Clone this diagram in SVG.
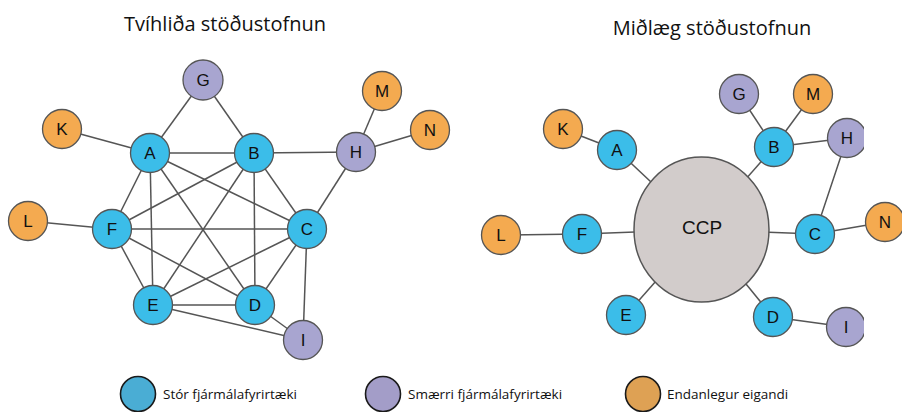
<svg xmlns="http://www.w3.org/2000/svg" width="902" height="412" viewBox="0 0 902 412">
<style>
.e{stroke:#555;stroke-width:1.5;fill:none}
.n circle{stroke:#555;stroke-width:1.3}
.big{fill:#3bbde9}
.small{fill:#a8a5d0}
.end{fill:#f4aa50}
.lbl{font-family:"Liberation Sans",Arial,sans-serif;font-size:17px;fill:#111;text-anchor:middle}
.title{font-family:"Open Sans","Noto Sans",sans-serif;font-size:20px;fill:#111;text-anchor:middle}
.leg{font-family:"Open Sans","Noto Sans",sans-serif;font-size:13.5px;fill:#111}
.legc{stroke:#1a1a1a;stroke-width:1.6}
</style>
<defs>
<clipPath id="rc"><rect x="0" y="0" width="864" height="412"/></clipPath>
</defs>
<rect width="902" height="412" fill="#fff"/>
<text class="title" x="225" y="31">Tvíhliða stöðustofnun</text>
<text class="title" x="712" y="35">Miðlæg stöðustofnun</text>

<g id="connectors-left">
<line class="e" x1="203" y1="80" x2="150" y2="153"/>
<line class="e" x1="203" y1="80" x2="254" y2="153"/>
<line class="e" x1="62" y1="129" x2="150" y2="153"/>
<line class="e" x1="254" y1="153" x2="356" y2="152"/>
<line class="e" x1="356" y1="152" x2="382" y2="91"/>
<line class="e" x1="356" y1="152" x2="430" y2="130"/>
<line class="e" x1="356" y1="152" x2="307" y2="229"/>
<line class="e" x1="28" y1="221" x2="112" y2="229"/>
<line class="e" x1="150" y1="153" x2="254" y2="153"/>
<line class="e" x1="150" y1="153" x2="307" y2="229"/>
<line class="e" x1="150" y1="153" x2="255" y2="305"/>
<line class="e" x1="150" y1="153" x2="153" y2="305"/>
<line class="e" x1="150" y1="153" x2="112" y2="229"/>
<line class="e" x1="254" y1="153" x2="307" y2="229"/>
<line class="e" x1="254" y1="153" x2="255" y2="305"/>
<line class="e" x1="254" y1="153" x2="153" y2="305"/>
<line class="e" x1="254" y1="153" x2="112" y2="229"/>
<line class="e" x1="307" y1="229" x2="255" y2="305"/>
<line class="e" x1="307" y1="229" x2="153" y2="305"/>
<line class="e" x1="307" y1="229" x2="112" y2="229"/>
<line class="e" x1="255" y1="305" x2="153" y2="305"/>
<line class="e" x1="255" y1="305" x2="112" y2="229"/>
<line class="e" x1="153" y1="305" x2="112" y2="229"/>
<line class="e" x1="307" y1="229" x2="303" y2="340"/>
<line class="e" x1="255" y1="305" x2="303" y2="340"/>
<line class="e" x1="153" y1="305" x2="303" y2="340"/>
</g>

<g id="connectors-right">
<line class="e" x1="563" y1="129" x2="617" y2="150"/>
<line class="e" x1="617" y1="150" x2="701.5" y2="229.5"/>
<line class="e" x1="501" y1="235" x2="582" y2="234"/>
<line class="e" x1="582" y1="234" x2="701.5" y2="229.5"/>
<line class="e" x1="701.5" y1="229.5" x2="815" y2="234"/>
<line class="e" x1="815" y1="234" x2="885" y2="222"/>
<line class="e" x1="815" y1="234" x2="847" y2="138"/>
<line class="e" x1="774" y1="147" x2="701.5" y2="229.5"/>
<line class="e" x1="774" y1="147" x2="739" y2="94"/>
<line class="e" x1="774" y1="147" x2="813" y2="94"/>
<line class="e" x1="774" y1="147" x2="847" y2="138"/>
<line class="e" x1="701.5" y1="229.5" x2="626" y2="315"/>
<line class="e" x1="701.5" y1="229.5" x2="773" y2="317"/>
<line class="e" x1="773" y1="317" x2="846" y2="327"/>
</g>

<g id="L-G" class="n"><circle class="small" cx="203" cy="80" r="20"/><text class="lbl" x="203" y="86">G</text></g>
<g id="L-K" class="n"><circle class="end" cx="62" cy="129" r="19.5"/><text class="lbl" x="62" y="135">K</text></g>
<g id="L-A" class="n"><circle class="big" cx="150" cy="153" r="19.5"/><text class="lbl" x="150" y="159">A</text></g>
<g id="L-B" class="n"><circle class="big" cx="254" cy="153" r="19.5"/><text class="lbl" x="254" y="159">B</text></g>
<g id="L-H" class="n"><circle class="small" cx="356" cy="152" r="19.5"/><text class="lbl" x="356" y="158">H</text></g>
<g id="L-M" class="n"><circle class="end" cx="382" cy="91" r="19.5"/><text class="lbl" x="382" y="97">M</text></g>
<g id="L-N" class="n"><circle class="end" cx="430" cy="130" r="19.5"/><text class="lbl" x="430" y="136">N</text></g>
<g id="L-L" class="n"><circle class="end" cx="28" cy="221" r="19.5"/><text class="lbl" x="28" y="227">L</text></g>
<g id="L-F" class="n"><circle class="big" cx="112" cy="229" r="19.5"/><text class="lbl" x="112" y="235">F</text></g>
<g id="L-C" class="n"><circle class="big" cx="307" cy="229" r="19.5"/><text class="lbl" x="307" y="235">C</text></g>
<g id="L-E" class="n"><circle class="big" cx="153" cy="305" r="19.5"/><text class="lbl" x="153" y="311">E</text></g>
<g id="L-D" class="n"><circle class="big" cx="255" cy="305" r="19.5"/><text class="lbl" x="255" y="311">D</text></g>
<g id="L-I" class="n"><circle class="small" cx="303" cy="340" r="19.5"/><text class="lbl" x="303" y="346">I</text></g>

<g id="R-CCP" class="n"><ellipse cx="701.5" cy="229.5" rx="67.5" ry="72.5" fill="#d2cccb" stroke="#555" stroke-width="1.5"/><text class="lbl" x="702" y="234" style="font-size:19px">CCP</text></g>
<g id="R-G" class="n"><circle class="small" cx="739" cy="94" r="19.5"/><text class="lbl" x="739" y="100">G</text></g>
<g id="R-M" class="n"><circle class="end" cx="813" cy="94" r="19.5"/><text class="lbl" x="813" y="100">M</text></g>
<g id="R-K" class="n"><circle class="end" cx="563" cy="129" r="19.5"/><text class="lbl" x="563" y="135">K</text></g>
<g id="R-A" class="n"><circle class="big" cx="617" cy="150" r="19.5"/><text class="lbl" x="617" y="156">A</text></g>
<g id="R-B" class="n"><circle class="big" cx="774" cy="147" r="19.5"/><text class="lbl" x="774" y="153">B</text></g>
<g id="R-H" class="n" clip-path="url(#rc)"><circle class="small" cx="847" cy="138" r="19.5"/><text class="lbl" x="847" y="144">H</text></g>
<g id="R-L" class="n"><circle class="end" cx="501" cy="235" r="19.5"/><text class="lbl" x="501" y="241">L</text></g>
<g id="R-F" class="n"><circle class="big" cx="582" cy="234" r="19.5"/><text class="lbl" x="582" y="240">F</text></g>
<g id="R-C" class="n"><circle class="big" cx="815" cy="234" r="19.5"/><text class="lbl" x="815" y="240">C</text></g>
<g id="R-N" class="n"><circle class="end" cx="885" cy="222" r="19.5"/><text class="lbl" x="885" y="228">N</text></g>
<g id="R-E" class="n"><circle class="big" cx="626" cy="315" r="19.5"/><text class="lbl" x="626" y="321">E</text></g>
<g id="R-D" class="n"><circle class="big" cx="773" cy="317" r="19.5"/><text class="lbl" x="773" y="323">D</text></g>
<g id="R-I" class="n" clip-path="url(#rc)"><circle class="small" cx="846" cy="327" r="19.5"/><text class="lbl" x="846" y="333">I</text></g>

<g id="legend">
<circle class="legc" cx="138" cy="394" r="17.5" fill="#4aadd4"/>
<text class="leg" x="163" y="399">Stór fjármálafyrirtæki</text>
<circle class="legc" cx="383" cy="394" r="17.5" fill="#a39dc8"/>
<text class="leg" x="408" y="399">Smærri fjármálafyrirtæki</text>
<circle class="legc" cx="643" cy="394" r="17.5" fill="#dea154"/>
<text class="leg" x="667" y="399">Endanlegur eigandi</text>
</g>
</svg>
